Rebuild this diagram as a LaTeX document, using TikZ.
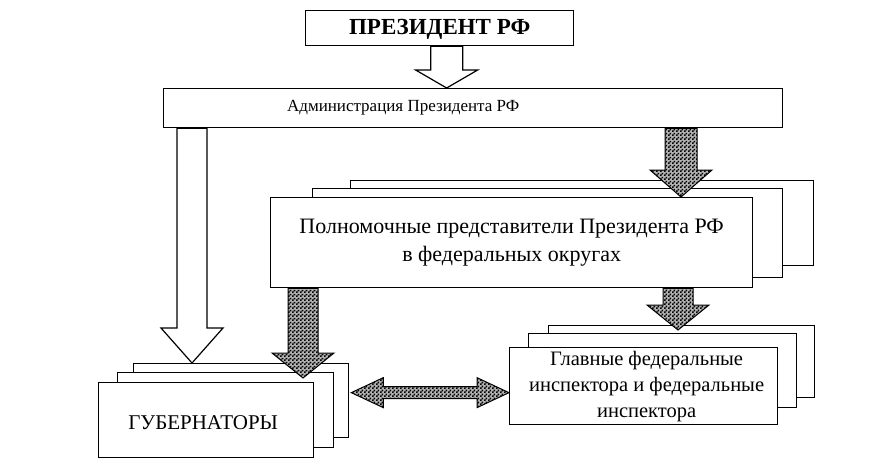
\documentclass[tikz,border=0pt]{standalone}
\usepackage{fontspec}
\setmainfont{Liberation Serif}
\usetikzlibrary{calc,patterns}
\pgfdeclarepatternformonly{finecheck}{\pgfpointorigin}{\pgfpoint{4pt}{4pt}}{\pgfpoint{4pt}{4pt}}{%
 \pgfpathrectangle{\pgfpointorigin}{\pgfpoint{2pt}{2pt}}%
 \pgfpathrectangle{\pgfpoint{2pt}{2pt}}{\pgfpoint{2pt}{2pt}}%
 \pgfusepath{fill}}
% vertical block arrow: style, start, tip, shaft half, head half, head length
\newcommand\blkdown[6]{%
 \path[#1] let \p1=(#2), \p2=(#3) in
 ({\x1-#4},{\y1}) -- ({\x1-#4},{\y2+#6}) -- ({\x1-#5},{\y2+#6}) -- ({\x1},{\y2})
 -- ({\x1+#5},{\y2+#6}) -- ({\x1+#4},{\y2+#6}) -- ({\x1+#4},{\y1}) -- cycle;}
% horizontal double block arrow: style, left tip, right tip, shaft half, head half, head length
\newcommand\blkdouble[6]{%
 \path[#1] let \p1=(#2), \p2=(#3) in
 ({\x1},{\y1}) -- ({\x1+#6},{\y1+#5}) -- ({\x1+#6},{\y1+#4}) -- ({\x2-#6},{\y1+#4})
 -- ({\x2-#6},{\y1+#5}) -- ({\x2},{\y1}) -- ({\x2-#6},{\y1-#5}) -- ({\x2-#6},{\y1-#4})
 -- ({\x1+#6},{\y1-#4}) -- ({\x1+#6},{\y1-#5}) -- cycle;}
\begin{document}
\begin{tikzpicture}[x=1pt,y=-1pt,
  box/.style={draw, line width=1.3pt, fill=white, inner sep=0pt, anchor=north west},
  whitearrow/.style={draw, line width=1.2pt, fill=white, line join=miter},
  patarrow/.style={draw, line width=1pt, line join=miter, preaction={fill=gray!60},
    pattern=finecheck, pattern color=black},
  txt/.style={align=center, inner sep=0pt}]
\useasboundingbox (0,0) rectangle (876,472);
% President
\node[box, minimum width=268pt, minimum height=35pt] (pres) at (305,10) {};
\node[txt, font=\fontsize{23}{26}\selectfont\bfseries] (prestxt) at ($(pres.center)+(0,1)$) {ПРЕЗИДЕНТ РФ};
% Administration
\node[box, minimum width=619pt, minimum height=39pt] (admin) at (163,88) {};
\node[txt, font=\fontsize{17}{20}\selectfont] (admintxt) at ($(admin.center)+(-70,0)$) {Администрация Президента РФ};
% Representatives (stack)
\node[box, minimum width=463pt, minimum height=85pt] (rep3) at (350,180) {};
\node[box, minimum width=470pt, minimum height=89pt] (rep2) at (312,188) {};
\node[box, minimum width=482pt, minimum height=90pt] (rep1) at (270,197) {};
\node[txt, font=\fontsize{22}{28}\selectfont] (reptxt) at (rep1.center) {Полномочные представители Президента РФ\\в федеральных округах};
% Governors (stack)
\node[box, minimum width=215pt, minimum height=74pt] (gov3) at (133,363) {};
\node[box, minimum width=216pt, minimum height=75pt] (gov2) at (117,372) {};
\node[box, minimum width=215pt, minimum height=75pt] (gov1) at (98,382) {};
\node[txt, font=\fontsize{21}{24}\selectfont] (govtxt) at ($(gov1.center)+(-3,2)$) {ГУБЕРНАТОРЫ};
% Inspectors (stack)
\node[box, minimum width=266pt, minimum height=72pt] (insp3) at (548,325) {};
\node[box, minimum width=268pt, minimum height=74pt] (insp2) at (528,333) {};
\node[box, minimum width=268pt, minimum height=77pt] (insp1) at (509,347) {};
\node[txt, font=\fontsize{20.5}{26}\selectfont] (insptxt) at ($(insp1.center)+(3,0)$) {Главные федеральные\\инспектора и федеральные\\инспектора};
% Arrows
\coordinate (a1s) at ($(pres.south)+(7,0)$);
\blkdown{whitearrow}{a1s}{a1s |- admin.north}{16pt}{31pt}{18pt}
\coordinate (a2s) at ($(admin.south west)+(29,0)$);
\blkdown{whitearrow}{a2s}{a2s |- gov3.north}{15pt}{31pt}{35pt}
\coordinate (a3s) at ($(admin.south west)+(518,0)$);
\blkdown{patarrow}{a3s}{a3s |- rep1.north}{16pt}{31pt}{27pt}
\coordinate (a4s) at ($(rep1.south west)+(33,0)$);
\blkdown{patarrow}{a4s}{$(a4s |- gov1.north)+(0,-4)$}{15pt}{31pt}{25pt}
\coordinate (a5s) at ($(rep1.south west)+(408,0)$);
\blkdown{patarrow}{a5s}{$(a5s |- insp3.north)+(0,5)$}{15pt}{31pt}{25pt}
\coordinate (dl) at ($(gov3.east)+(2,-8)$);
\blkdouble{patarrow}{dl}{dl -| insp1.west}{6pt}{15pt}{32pt}
\end{tikzpicture}
\end{document}
